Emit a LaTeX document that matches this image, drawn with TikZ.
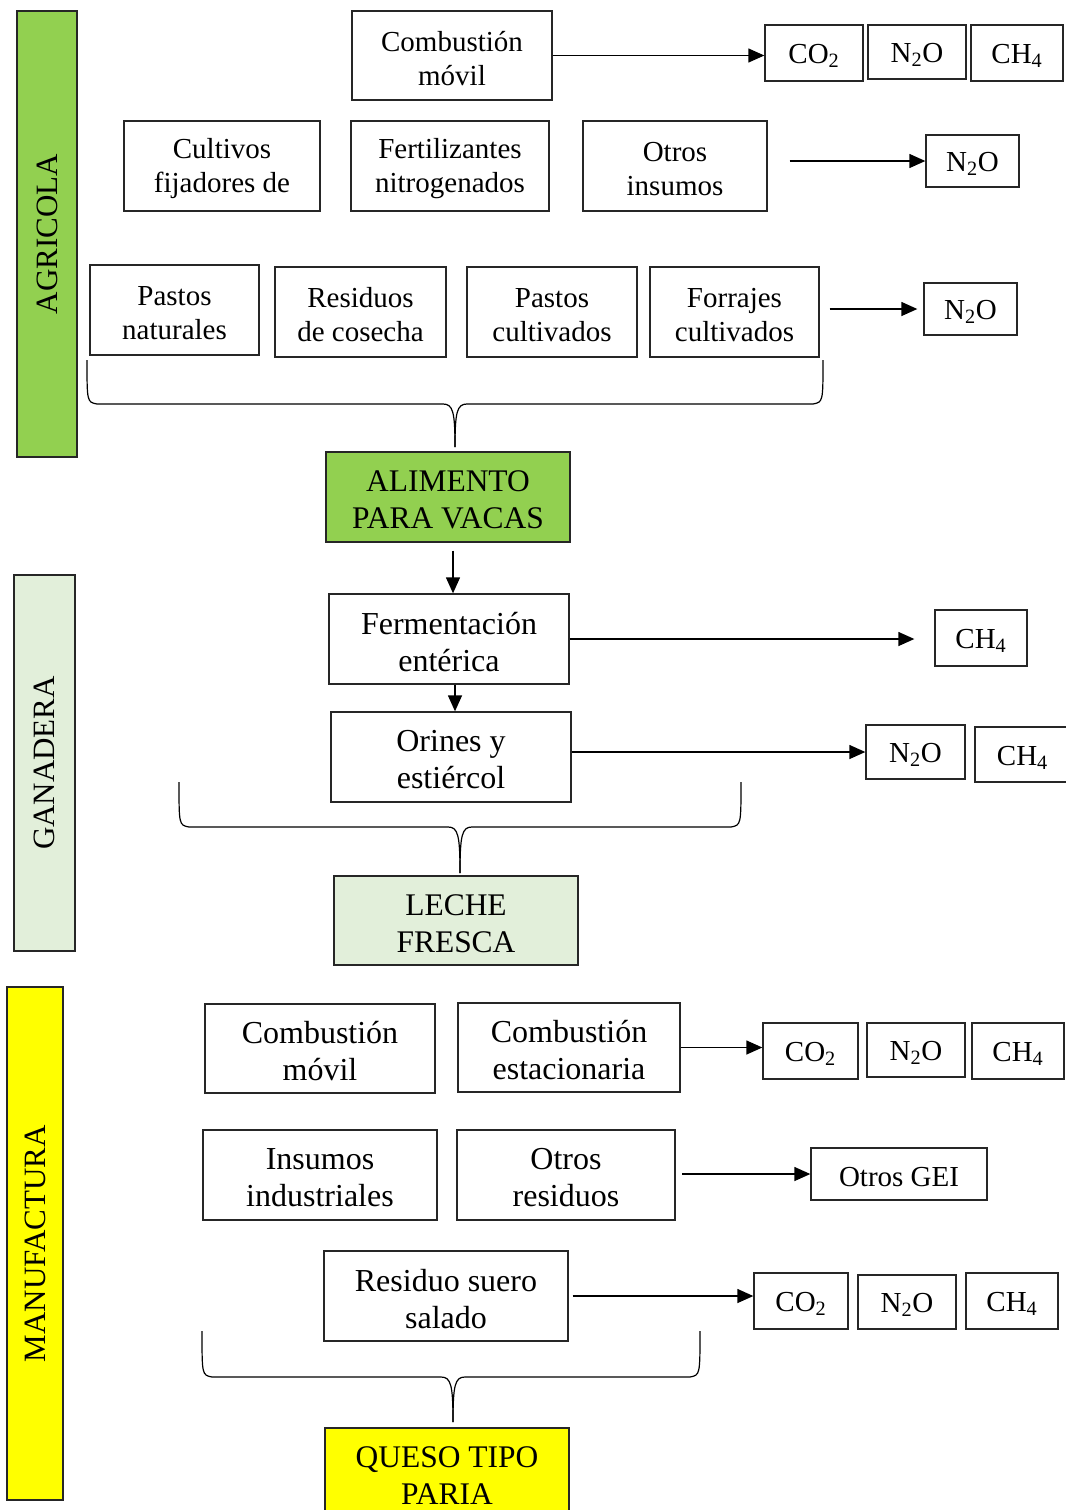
\documentclass[tikz,border=0pt]{standalone}
\usepackage{fontspec}
\setmainfont{Liberation Serif}
\usetikzlibrary{arrows.meta}
\definecolor{agri}{HTML}{92D050}
\definecolor{gana}{HTML}{E2EFDA}
\definecolor{manu}{HTML}{FFFF00}
\definecolor{edge}{HTML}{262626}
% font sizes
\newcommand\fA{\fontsize{21.75}{25.5}\selectfont}
\newcommand\fB{\fontsize{24}{27.75}\selectfont}
\newcommand\fL{\fontsize{23.6}{27.75}\selectfont}
\newcommand\fS{\fontsize{23.25}{28}\selectfont}
% box from corner (x1,y1) to (x2,y2): [style]{name}{x1}{y1}{x2}{y2}{text}
% the text sits in its own node, set a little below the box centre
\newcommand\bx[7][]{%
  \node[box,#1,minimum width={(#5-#3)*0.75pt},minimum height={(#6-#4)*0.75pt}] (#2) at ({(#3+#5)/2},{(#4+#6)/2}) {};
  \node[txt,#1,draw=none] (#2-t) at ([yshift=-2.25pt]#2.center) {#7};}
% curly bracket: {x left}{x right}{y top}{y bar}{x tip}{y tip}
\newcommand\curly[6]{%
  \draw[brc] (#1,#3) .. controls (#1,{#4-2}) .. ({#1+10},#4) -- ({#5-12},#4) .. controls ({#5-2},#4) and (#5,{#4+8}) .. (#5,#6);
  \draw[brc] (#2,#3) .. controls (#2,{#4-2}) .. ({#2-10},#4) -- ({#5+12},#4) .. controls ({#5+2},#4) and (#5,{#4+8}) .. (#5,#6);}
\begin{document}
\begin{tikzpicture}[x=0.75pt,y=-0.75pt,
  box/.style={draw=edge,line width=1pt,inner sep=0pt,font=\fA},
  txt/.style={inner sep=0pt,align=center,font=\fA,text=black,fill=none},
  gas/.style={font=\fA},
  arr/.style={draw=black,line width=1pt,-{Triangle[length=12pt,width=10.5pt]}},
  brc/.style={draw=black,line width=0.9pt},
  side/.style={rotate=90,font=\fS,text=black}]
\useasboundingbox (0,0) rectangle (1065,1510);
\fill[white] (0,0) rectangle (1065,1510);

% ---------- Agricola ----------
\bx[fill=agri]{sagri}{17}{11}{77}{457}{}
\node[side] (tagri) at (sagri) {AGRICOLA};

\bx{cma}{352}{11}{552}{100}{Combustión\\móvil}
\bx[gas]{co2a}{765}{25}{863}{81}{CO\textsubscript{2}}
\bx[gas]{n2oa}{868}{25}{966}{79}{N\textsubscript{2}O}
\bx[gas]{ch4a}{971}{25}{1063}{81}{CH\textsubscript{4}}
\draw[arr] (cma.east) -- (cma.east -| co2a.west);

\bx{cult}{124}{121}{320}{211}{Cultivos\\fijadores de}
\bx{fert}{351}{121}{549}{211}{Fertilizantes\\nitrogenados}
\bx{otri}{583}{121}{767}{211}{Otros\\insumos}
\bx[gas]{n2ob}{926}{135}{1019}{187}{N\textsubscript{2}O}
\draw[arr,shorten <=16.5pt] (n2ob.west -| otri.east) -- (n2ob.west);

\bx{pnat}{90}{265}{259}{355}{Pastos\\naturales}
\bx{resc}{275}{267}{446}{357}{Residuos\\de cosecha}
\bx{pcul}{467}{267}{637}{357}{Pastos\\cultivados}
\bx{forr}{650}{267}{819}{357}{Forrajes\\cultivados}
\bx[gas]{n2oc}{924}{283}{1017}{335}{N\textsubscript{2}O}
\draw[arr,shorten <=7.5pt,shorten >=4.5pt] (n2oc.west -| forr.east) -- (n2oc.west);

\curly{87}{823}{360}{404}{455}{447}
\bx[fill=agri,font=\fL]{alim}{326}{452}{570}{542}{ALIMENTO\\PARA VACAS}

% ---------- Ganadera ----------
\bx[fill=gana]{sgana}{14}{575}{75}{951}{}
\node[side] (tgana) at (sgana) {GANADERA};

\bx[font=\fB]{ferm}{329}{594}{569}{684}{Fermentación\\entérica}
\draw[arr,shorten <=6pt] ([xshift=3.75pt]alim.south) -- ([xshift=3.75pt]alim.south |- ferm.north);
\bx[gas]{ch4g}{935}{610}{1027}{666}{CH\textsubscript{4}}
\draw[arr,shorten >=15pt] (ferm.east) -- (ferm.east -| ch4g.west);

\bx[font=\fB]{orin}{331}{712}{571}{802}{Orines y\\estiércol}
\draw[arr] ([xshift=4.5pt]ferm.south) -- ([xshift=4.5pt]ferm.south |- orin.north);
\bx[gas]{n2og}{866}{725}{965}{779}{N\textsubscript{2}O}
\bx[gas]{ch4h}{975}{727}{1070}{782}{CH\textsubscript{4}}
\draw[arr] (n2og.west -| orin.east) -- (n2og.west);

\curly{179}{741}{782}{827}{460}{873}
\bx[fill=gana,font=\fL]{lech}{334}{876}{578}{965}{LECHE\\FRESCA}

% ---------- Manufactura ----------
\bx[fill=manu]{smanu}{7}{987}{63}{1500}{}
\node[side] (tmanu) at (smanu) {MANUFACTURA};

\bx[font=\fB]{cmm}{205}{1004}{435}{1093}{Combustión\\móvil}
\bx[font=\fB]{cest}{458}{1003}{680}{1092}{Combustión\\estacionaria}
\bx[gas]{co2m}{763}{1023}{858}{1079}{CO\textsubscript{2}}
\bx[gas]{n2om}{867}{1023}{965}{1077}{N\textsubscript{2}O}
\bx[gas]{ch4m}{972}{1023}{1064}{1079}{CH\textsubscript{4}}
\draw[arr] (cest.east) -- (cest.east -| co2m.west);

\bx[font=\fB]{insu}{203}{1130}{437}{1220}{Insumos\\industriales}
\bx[font=\fB]{otrr}{457}{1130}{675}{1220}{Otros\\residuos}
\bx[gas]{gei}{811}{1148}{987}{1200}{Otros GEI}
\draw[arr,shorten <=5pt] (gei.west -| otrr.east) -- (gei.west);

\bx[font=\fB]{suer}{324}{1251}{568}{1341}{Residuo suero\\salado}
\bx[gas]{co2n}{754}{1273}{848}{1329}{CO\textsubscript{2}}
\bx[gas]{n2on}{858}{1275}{956}{1329}{N\textsubscript{2}O}
\bx[gas]{ch4n}{966}{1273}{1058}{1329}{CH\textsubscript{4}}
\draw[arr,shorten <=3pt] (suer.east) -- (suer.east -| co2n.west);

\curly{202}{700}{1331}{1377}{453}{1422}
\bx[fill=manu,font=\fL]{ques}{325}{1428}{569}{1517}{QUESO TIPO\\PARIA}
\end{tikzpicture}
\end{document}
